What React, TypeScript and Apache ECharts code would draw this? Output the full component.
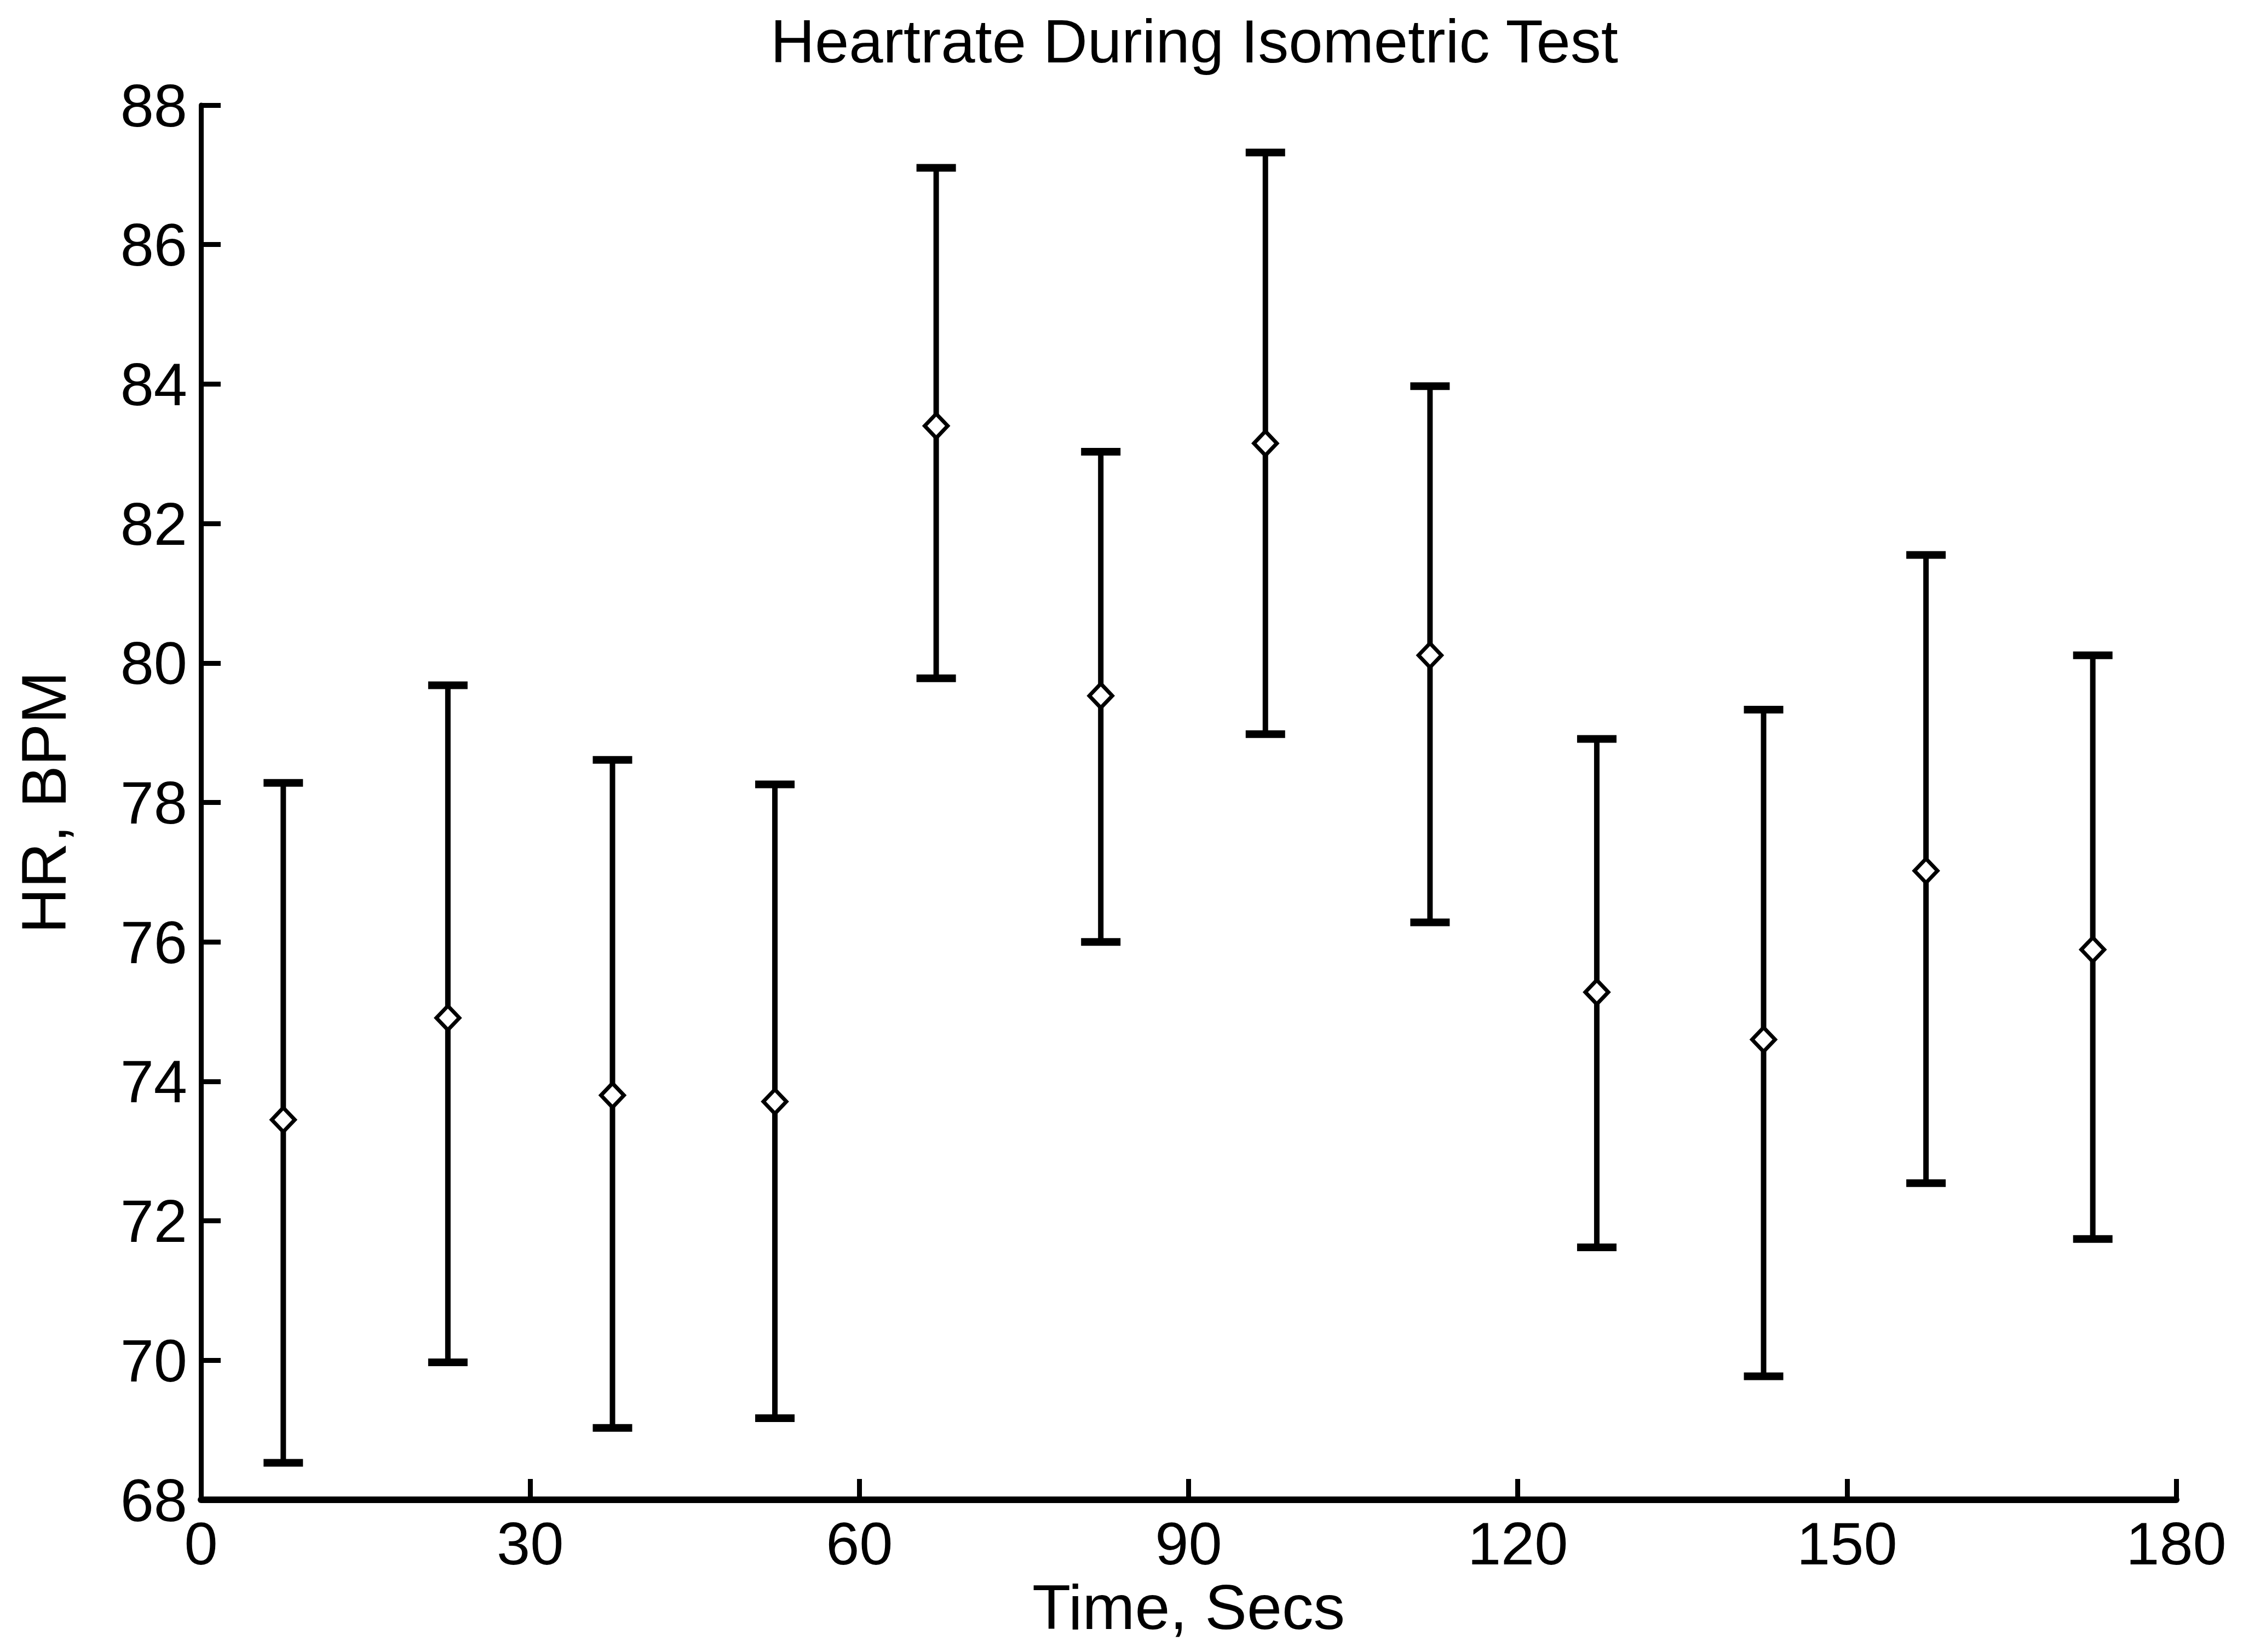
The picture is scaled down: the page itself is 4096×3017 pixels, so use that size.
import React, { useEffect, useRef } from "react";
import * as echarts from "echarts";

// ---- data ----
const times = [7.5, 22.5, 37.5, 52.3, 67.0, 82.0, 97.0, 112.0, 127.2, 142.4, 157.2, 172.4];
const meanHR = [73.45, 74.91, 73.8, 73.71, 83.4, 79.53, 83.15, 80.11, 75.28, 74.6, 77.02, 75.89];
const upperHR = [78.28, 79.68, 78.61, 78.26, 87.1, 83.03, 87.32, 83.97, 78.91, 79.33, 81.55, 80.11];
const lowerHR = [68.53, 69.97, 69.03, 69.17, 79.78, 76.0, 78.98, 76.28, 71.62, 69.77, 72.54, 71.74];

const xRange = [0, 180];
const xStep = 30;
const yRange = [68, 88];
const yStep = 2;

const titleText = "Heartrate During Isometric Test";
const xName = "Time, Secs";
const yName = "HR, BPM";

const FONT = "'Liberation Sans', Arial, Helvetica, sans-serif";

export default function App() {
  const ref = useRef<HTMLDivElement>(null);

  useEffect(() => {
    if (!ref.current) return;
    const chart = echarts.init(ref.current, undefined, { renderer: "svg" });

    const errData = times.map((t, i) => [t, lowerHR[i], upperHR[i]]);
    const meanData = times.map((t, i) => [t, meanHR[i]]);

    const option: any = {
      animation: false,
      backgroundColor: "#ffffff",
      title: {
        text: titleText,
        left: 2181,
        top: 19,
        padding: 0,
        textAlign: "center",
        textStyle: {
          fontFamily: FONT,
          fontSize: 112,
          fontWeight: "normal",
          color: "#000",
        },
      },
      grid: {
        left: 367,
        top: 192,
        width: 3607,
        height: 2547,
        containLabel: false,
      },
      xAxis: {
        type: "value",
        min: xRange[0],
        max: xRange[1],
        interval: xStep,
        name: xName,
        nameLocation: "middle",
        nameGap: 134,
        nameTextStyle: { fontFamily: FONT, fontSize: 115, color: "#000" },
        axisLine: { show: true, onZero: false, lineStyle: { color: "#000", width: 12 } },
        axisTick: { show: true, inside: true, length: 38, lineStyle: { color: "#000", width: 9 } },
        axisLabel: { margin: 24, fontFamily: FONT, fontSize: 110, color: "#000" },
        splitLine: { show: false },
      },
      yAxis: {
        type: "value",
        min: yRange[0],
        max: yRange[1],
        interval: yStep,
        name: yName,
        nameLocation: "middle",
        nameGap: 230,
        nameTextStyle: { fontFamily: FONT, fontSize: 115, color: "#000" },
        axisLine: { show: true, onZero: false, lineStyle: { color: "#000", width: 9 } },
        axisTick: { show: true, inside: true, length: 36, lineStyle: { color: "#000", width: 9 } },
        axisLabel: { margin: 25, fontFamily: FONT, fontSize: 110, color: "#000" },
        splitLine: { show: false },
      },
      series: [
        {
          type: "custom",
          data: errData,
          encode: { x: 0, y: [1, 2] },
          z: 2,
          renderItem: (params: any, api: any) => {
            const x = api.value(0);
            const lo = api.value(1);
            const hi = api.value(2);
            const pTop = api.coord([x, hi]);
            const pBot = api.coord([x, lo]);
            const hw = 36;
            return {
              type: "group",
              children: [
                {
                  type: "line",
                  shape: { x1: pTop[0], y1: pTop[1], x2: pBot[0], y2: pBot[1] },
                  style: { stroke: "#000", lineWidth: 10 },
                },
                {
                  type: "line",
                  shape: { x1: pTop[0] - hw, y1: pTop[1], x2: pTop[0] + hw, y2: pTop[1] },
                  style: { stroke: "#000", lineWidth: 14 },
                },
                {
                  type: "line",
                  shape: { x1: pBot[0] - hw, y1: pBot[1], x2: pBot[0] + hw, y2: pBot[1] },
                  style: { stroke: "#000", lineWidth: 14 },
                },
              ],
            };
          },
        },
        {
          type: "scatter",
          data: meanData,
          z: 3,
          symbol: "diamond",
          symbolSize: [42, 44],
          itemStyle: { color: "#fff", borderColor: "#000", borderWidth: 7, opacity: 1 },
        },
      ],
    };

    chart.setOption(option);
    return () => chart.dispose();
  }, []);

  return (
    <div
      ref={ref}
      style={{ position: "absolute", left: 0, top: 0, width: 4096, height: 3017, background: "#fff" }}
    />
  );
}
